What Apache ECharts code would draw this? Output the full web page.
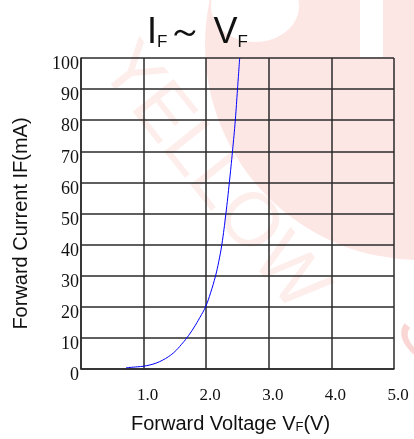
<!DOCTYPE html>
<html>
<head>
<meta charset="utf-8">
<script src="https://cdn.jsdelivr.net/npm/echarts@6/dist/echarts.min.js"></script>
<style>
  html, body { margin: 0; padding: 0; background: #fff; }
  #chart { width: 414px; height: 439px; }
</style>
</head>
<body>
<div id="chart"></div>
<script>
// forward voltage (V) / forward current (mA)
const voltage = [0.72, 0.9, 1.0, 1.1, 1.2, 1.3, 1.4, 1.5, 1.6, 1.69, 1.8, 1.9, 1.99, 2.07, 2.15, 2.2, 2.25, 2.315, 2.37, 2.42, 2.465, 2.50, 2.535];
const current = [0.4, 0.7, 0.9, 1.3, 1.9, 2.8, 4.0, 5.6, 7.8, 10, 13.2, 16.6, 20, 24.5, 30, 34.5, 40, 50, 60, 70, 80, 90, 100];
const xTicks = ['', '1.0', '2.0', '3.0', '4.0', '5.0'];

const chart = echarts.init(document.getElementById('chart'));

const pink = '#fde7e5';
const gridColor = '#2a2a2a';

chart.setOption({
  animation: false,
  backgroundColor: '#fff',
  title: {
    left: 142,
    top: 6,
    text: '{m|I}{s|F}{m|～ V}{s|F}',
    textStyle: {
      rich: {
        m: { fontFamily: 'Liberation Sans', fontWeight: 'normal', fontSize: 36, color: '#111', lineHeight: 40, verticalAlign: 'bottom' },
        s: { fontFamily: 'Liberation Sans', fontWeight: 'normal', fontSize: 17, color: '#111', lineHeight: 40, verticalAlign: 'bottom' }
      }
    }
  },
  // faint logo watermark behind the plot
  graphic: [
    {
      type: 'circle', z: -10, silent: true,
      shape: { cx: 420, cy: 45, r: 215 },
      style: { fill: pink }
    },
    {
      type: 'ellipse', z: -10, silent: true,
      shape: { cx: 255, cy: 6, rx: 44, ry: 36 },
      style: { fill: '#fff' }
    },
    {
      type: 'rect', z: -10, silent: true,
      shape: { x: 360, y: 0, width: 23, height: 57 },
      style: { fill: '#fff' }
    },
    {
      type: 'text', z: -9, silent: true,
      x: 212, y: 178, rotation: -0.9,
      style: {
        text: 'YELLOW', fill: 'rgba(250,195,190,0.3)',
        font: '76px "Liberation Sans"', align: 'center', verticalAlign: 'middle'
      }
    },
    {
      type: 'text', z: -9, silent: true,
      x: 425, y: 335, rotation: -0.9,
      style: {
        text: 'S', fill: 'rgba(245,175,170,0.5)',
        font: '76px "Liberation Sans"', align: 'center', verticalAlign: 'middle'
      }
    }
  ],
  grid: { left: 81, right: 20, top: 58, bottom: 68 },
  xAxis: {
    type: 'value',
    min: 0, max: 5, interval: 1,
    name: '{a|Forward Voltage V}{b|F}{a|(V)}',
    nameLocation: 'middle',
    nameGap: 43,
    nameTextStyle: {
      padding: [0, 14, 0, 0],
      rich: {
        a: { fontFamily: 'Liberation Sans', fontSize: 20, color: '#111', lineHeight: 22, verticalAlign: 'bottom' },
        b: { fontFamily: 'Liberation Sans', fontSize: 13, color: '#111', lineHeight: 22, verticalAlign: 'bottom' }
      }
    },
    axisLine: { show: true, onZero: false, lineStyle: { color: gridColor, width: 1.5 } },
    axisTick: { show: false },
    axisLabel: {
      margin: 18,
      fontFamily: 'Liberation Serif', fontSize: 17, color: '#111',
      padding: [0, 0, 0, 8],
      formatter: (v) => xTicks[Math.round(v)]
    },
    splitLine: { show: true, lineStyle: { color: gridColor, width: 1.5 } }
  },
  yAxis: {
    type: 'value',
    min: 0, max: 100, interval: 10,
    name: 'Forward Current IF(mA)',
    nameLocation: 'middle',
    nameGap: 50,
    nameTextStyle: { fontFamily: 'Liberation Sans', fontSize: 20, color: '#111', padding: [0, 20, 0, 0] },
    axisLine: { show: true, lineStyle: { color: gridColor, width: 1.5 } },
    axisTick: { show: false },
    axisLabel: {
      margin: 2,
      fontFamily: 'Liberation Serif', fontSize: 18, color: '#111',
      verticalAlign: 'top', lineHeight: 13
    },
    splitLine: { show: true, lineStyle: { color: gridColor, width: 1.5 } }
  },
  series: [{
    type: 'line',
    data: voltage.map((v, i) => [v, current[i]]),
    smooth: 0.4,
    showSymbol: false,
    lineStyle: { color: '#0000ff', width: 1 }
  }]
});
</script>
</body>
</html>
